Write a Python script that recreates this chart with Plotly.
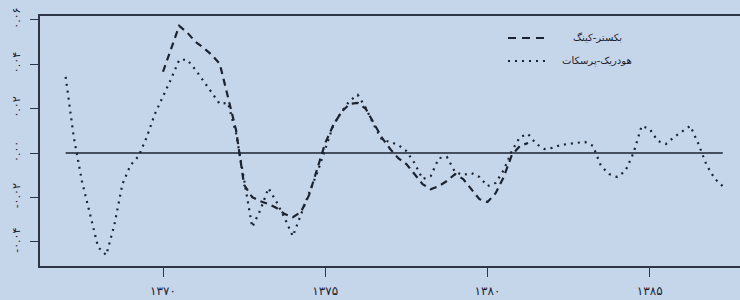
import plotly.graph_objects as go

# quarterly time index, starting 1367
start_year = 1367
n_points = 82
years = [start_year + i / 4 for i in range(n_points)]

# Hodrick-Prescott cycle (dotted)
hp = [0.0343, 0.0072, -0.0126, -0.0271, -0.0424, -0.0460, -0.0325, -0.0140,
      -0.0054, -0.0014, 0.0072, 0.0176, 0.0253, 0.0334, 0.0420, 0.0420,
      0.0375, 0.0325, 0.0271, 0.0221, 0.0226, 0.0090, -0.0122, -0.0334,
      -0.0257, -0.0158, -0.0221, -0.0293, -0.0375, -0.0275, -0.0181, -0.0090,
      0.0014, 0.0126, 0.0185, 0.0235, 0.0262, 0.0203, 0.0126, 0.0059,
      0.0050, 0.0036, 0.0009, -0.0045, -0.0117, -0.0104, -0.0023, -0.0018,
      -0.0086, -0.0099, -0.0090, -0.0108, -0.0149, -0.0135, -0.0077, 0.0009,
      0.0072, 0.0086, 0.0041, 0.0018, 0.0023, 0.0036, 0.0041, 0.0045,
      0.0050, 0.0032, -0.0059, -0.0095, -0.0108, -0.0081, 0.0000, 0.0122,
      0.0108, 0.0054, 0.0041, 0.0072, 0.0099, 0.0122, 0.0041, -0.0054,
      -0.0115, -0.0150]

# Baxter-King cycle (dashed), available from 1370 onward
bk_start = 12
bk = [0.0366, 0.0474, 0.0573, 0.0542, 0.0501, 0.0474, 0.0442, 0.0402,
      0.0253, 0.0104, -0.0144, -0.0199, -0.0217, -0.0230, -0.0248, -0.0275,
      -0.0289, -0.0266, -0.0190, -0.0068, 0.0045, 0.0126, 0.0185, 0.0221,
      0.0226, 0.0199, 0.0131, 0.0068, 0.0018, -0.0023, -0.0050, -0.0095,
      -0.0140, -0.0163, -0.0149, -0.0126, -0.0095, -0.0117, -0.0163, -0.0208,
      -0.0221, -0.0181, -0.0108, -0.0009, 0.0032, 0.0045]
bk_years = years[bk_start:bk_start + len(bk)]

zero_line = [0.0 for _ in years]

x_tick_vals = [1370, 1375, 1380, 1385]
x_tick_text = ["۱۳۷۰", "۱۳۷۵", "۱۳۸۰", "۱۳۸۵"]
y_tick_vals = [-0.04, -0.02, 0.0, 0.02, 0.04, 0.06]
y_tick_text = ["-۰.۰۴", "-۰.۰۲", "۰.۰۰", "۰.۰۲", "۰.۰۴", "۰.۰۶"]

legend_labels = ["بکستر-کینگ", "هودریک-پرسکات"]

bg = "#C6D6EA"
ink = "#1b2230"
axis_col = "#2c3646"
font_family = "DejaVu Sans"

fig = go.Figure()
fig.add_trace(go.Scatter(x=years, y=zero_line, mode="lines",
                         line=dict(color=ink, width=1.4), hoverinfo="skip",
                         showlegend=False))
fig.add_trace(go.Scatter(x=years, y=hp, mode="lines", name=legend_labels[1],
                         line=dict(color=ink, width=2.2, dash="2px,5px"),
                         showlegend=False))
fig.add_trace(go.Scatter(x=bk_years, y=bk, mode="lines", name=legend_labels[0],
                         line=dict(color=ink, width=2.2, dash="7px,5px"),
                         showlegend=False))

# plot area: x 40..740 px, y 16..266 px
L, R, T, B = 40, 740, 16, 266
W = R - L
H = B - T

def px(xp):
    return (xp - L) / W

def py(yp):
    return (B - yp) / H

rows = [(38, "8px,6px", legend_labels[0]), (61, "2px,5px", legend_labels[1])]
for yp, dash, label in rows:
    fig.add_shape(type="line", xref="paper", yref="paper",
                  x0=px(508), x1=px(546), y0=py(yp), y1=py(yp),
                  line=dict(color=ink, width=2.2, dash=dash))
    fig.add_annotation(xref="paper", yref="paper", x=px(597), y=py(yp),
                       text=label, showarrow=False, xanchor="center",
                       yanchor="middle",
                       font=dict(family=font_family, size=10, color=ink))

fig.update_layout(
    width=740, height=300,
    margin=dict(l=L, r=0, t=T, b=300 - B, pad=0),
    paper_bgcolor=bg, plot_bgcolor=bg,
    showlegend=False,
    font=dict(family=font_family, color=ink),
)
fig.update_xaxes(
    range=[1370 + (L - 163) / 32.45, 1370 + (R - 163) / 32.45],
    tickvals=x_tick_vals, ticktext=x_tick_text,
    showgrid=False, zeroline=False,
    showline=True, linecolor=axis_col, linewidth=1.6, mirror=True,
    ticks="outside", ticklen=9, tickwidth=1.3, tickcolor=axis_col,
    tickfont=dict(family=font_family, size=12, color=ink),
    ticklabelstandoff=4,
)
fig.update_yaxes(
    range=[(153 - B) * 0.02 / 44.4, (153 - T) * 0.02 / 44.4],
    tickvals=y_tick_vals, ticktext=y_tick_text,
    showgrid=False, zeroline=False,
    showline=True, linecolor=axis_col, linewidth=1.6, mirror=False,
    ticks="outside", ticklen=8, tickwidth=1.3, tickcolor=axis_col,
    tickangle=-90,
    tickfont=dict(family=font_family, size=11, color=ink),
    ticklabelstandoff=6,
)

fig.write_html(
    "out.html",
    config={"displayModeBar": False},
    post_script="document.body.style.margin='0';document.body.style.background='%s';" % bg,
)
